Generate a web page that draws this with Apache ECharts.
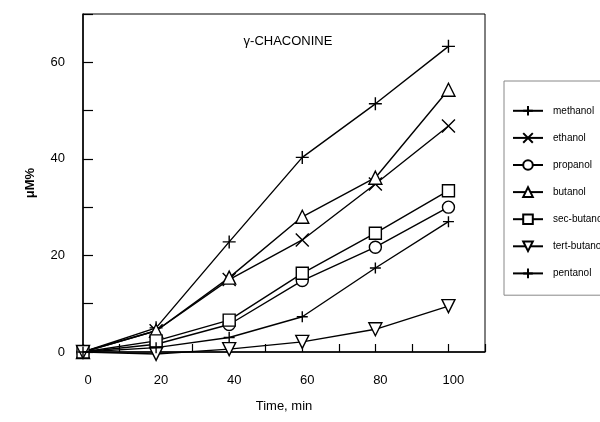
<!DOCTYPE html>
<html>
<head>
<meta charset="utf-8">
<script src="https://cdn.jsdelivr.net/npm/echarts@6/dist/echarts.min.js"></script>
<style>html,body{margin:0;padding:0;background:#fff}#c{width:600px;height:422px}</style>
</head>
<body>
<div id="c"></div>
<script>
var times = [0, 20, 40, 60, 80, 100];
var seriesNames = ['methanol', 'ethanol', 'propanol', 'butanol', 'sec-butanol', 'tert-butanol', 'pentanol'];
var methanol = [0, 5.0, 22.8, 40.3, 51.4, 63.3];
var ethanol = [0, 4.4, 15.0, 23.2, 34.8, 46.8];
var propanol = [0, 1.6, 5.7, 14.8, 21.7, 30.0];
var butanol = [0, 4.4, 15.4, 28.0, 36.1, 54.3];
var secButanol = [0, 2.3, 6.6, 16.3, 24.6, 33.4];
var tertButanol = [0, -0.4, 0.6, 2.1, 4.7, 9.5];
var pentanol = [0, 0.9, 3.0, 7.3, 17.4, 27.0];
var title = '\u03b3-CHACONINE';
var xName = 'Time, min';
var yName = '\u03bcM%';

var PLUS = 'path://M0,5L10,5M5,0L5,10';
var CROSS = 'path://M0,0L10,10M10,0L0,10';
var TRIDOWN = 'path://M0,0L10,0L5,9Z';
var TRIUP = 'path://M5,0L10,9L0,9Z';

var valueSets = [methanol, ethanol, propanol, butanol, secButanol, tertButanol, pentanol];
var symbols = [PLUS, CROSS, 'circle', TRIUP, 'rect', TRIDOWN, PLUS];
var sizes = [13, 13, 12, 13, 12, 13, 11];

function pairs(v) { return times.map(function (t, i) { return [t, v[i]]; }); }

var series = seriesNames.map(function (n, k) {
  return {
    name: n,
    type: 'line',
    data: pairs(valueSets[k]),
    symbol: symbols[k],
    symbolSize: sizes[k],
    showAllSymbol: true,
    clip: false,
    color: '#000',
    lineStyle: { color: '#000', width: 1.4 },
    itemStyle: { color: '#fff', borderColor: '#000', borderWidth: 1.4 },
    emphasis: { disabled: true },
    z: 2 + k
  };
});

var chart = echarts.init(document.getElementById('c'), null, { renderer: 'canvas' });
chart.setOption({
  animation: false,
  backgroundColor: '#fff',
  title: {
    text: title,
    left: 283, top: 30, textAlign: 'center',
    textStyle: { fontFamily: 'Liberation Sans, Arial', fontSize: 13, fontWeight: 'normal', color: '#000' }
  },
  grid: {
    left: 83, right: 115, top: 14, bottom: 70,
    show: true, borderColor: '#000', borderWidth: 1
  },
  legend: {
    orient: 'vertical',
    left: 504, top: 81,
    padding: [24, 40, 16, 8],
    itemWidth: 30, itemHeight: 12,
    itemGap: 15.5,
    borderColor: '#888', borderWidth: 1,
    data: seriesNames,
    textStyle: { fontFamily: 'Liberation Sans, Arial', fontSize: 10, color: '#000', padding: [0, 0, 0, 5] }
  },
  xAxis: {
    type: 'value', min: 0, max: 110, interval: 10,
    name: xName, nameLocation: 'middle', nameGap: 48,
    nameTextStyle: { fontFamily: 'Liberation Sans, Arial', fontSize: 13, color: '#000' },
    axisLine: { lineStyle: { color: '#000', width: 1.5 } },
    axisTick: { inside: true, length: 8, lineStyle: { color: '#000', width: 1.2 } },
    axisLabel: {
      margin: 22, color: '#000', fontFamily: 'Liberation Sans, Arial', fontSize: 13,
      padding: [0, 0, 0, 10],
      formatter: function (v) { return (v % 20 === 0 && v <= 100) ? String(v) : ''; }
    },
    splitLine: { show: false }
  },
  yAxis: {
    type: 'value', min: 0, max: 70, interval: 10,
    name: yName, nameLocation: 'middle', nameGap: 46, nameRotate: 90,
    nameTextStyle: { fontFamily: 'Liberation Sans, Arial', fontSize: 13, fontWeight: 'bold', color: '#000' },
    axisLine: { lineStyle: { color: '#000', width: 1.5 } },
    axisTick: { inside: true, length: 10, lineStyle: { color: '#000', width: 1.2 } },
    axisLabel: {
      margin: 18, color: '#000', fontFamily: 'Liberation Sans, Arial', fontSize: 13,
      formatter: function (v) { return (v % 20 === 0 && v <= 60) ? String(v) : ''; }
    },
    splitLine: { show: false }
  },
  series: series
});
</script>
</body>
</html>
